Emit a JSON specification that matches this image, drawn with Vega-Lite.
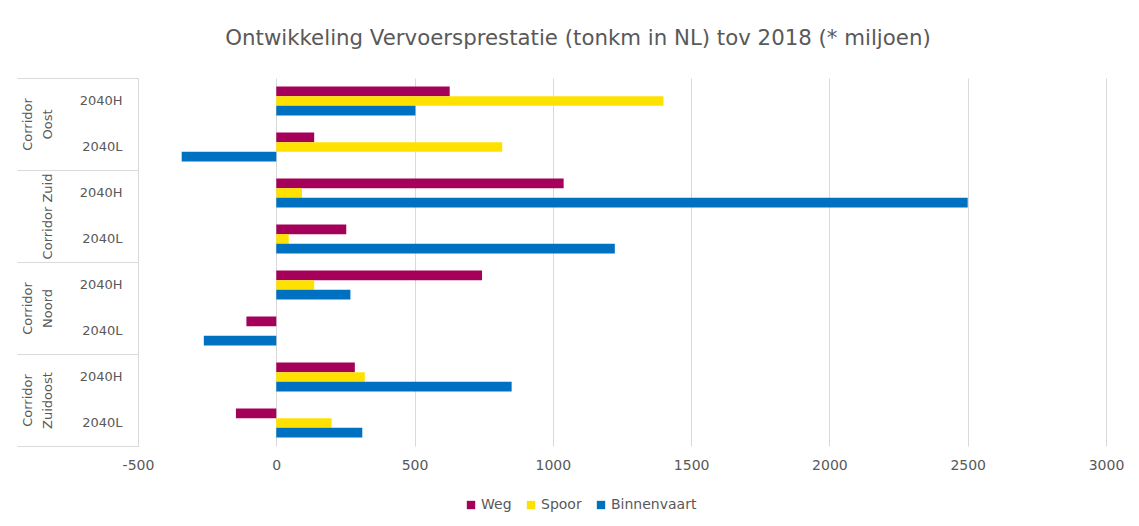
{
  "$schema": "https://vega.github.io/schema/vega-lite/v6.json",
  "width": 968,
  "height": 368,
  "autosize": {"type": "none"},
  "padding": {"left": 138, "top": 78, "right": 33, "bottom": 80},
  "background": "white",
  "config": {
    "font": "DejaVu Sans",
    "view": {"stroke": null},
    "axis": {"labelColor": "#595959", "labelFont": "DejaVu Sans", "labelFontSize": 13}
  },
  "title": {
    "text": "Ontwikkeling Vervoersprestatie (tonkm in NL) tov 2018 (* miljoen)",
    "anchor": "middle",
    "dx": -44,
    "fontSize": 21.3,
    "fontWeight": "normal",
    "color": "#595959",
    "font": "DejaVu Sans",
    "baseline": "alphabetic",
    "offset": 11
  },
  "data": {
    "values": [
      {"corridor": "Corridor Oost", "key": "Oost 2040H", "series": "Weg", "value": 627},
      {"corridor": "Corridor Oost", "key": "Oost 2040H", "series": "Spoor", "value": 1400},
      {"corridor": "Corridor Oost", "key": "Oost 2040H", "series": "Binnenvaart", "value": 503},
      {"corridor": "Corridor Oost", "key": "Oost 2040L", "series": "Weg", "value": 137},
      {"corridor": "Corridor Oost", "key": "Oost 2040L", "series": "Spoor", "value": 817},
      {"corridor": "Corridor Oost", "key": "Oost 2040L", "series": "Binnenvaart", "value": -342},
      {"corridor": "Corridor Zuid", "key": "Zuid 2040H", "series": "Weg", "value": 1039},
      {"corridor": "Corridor Zuid", "key": "Zuid 2040H", "series": "Spoor", "value": 93},
      {"corridor": "Corridor Zuid", "key": "Zuid 2040H", "series": "Binnenvaart", "value": 2500},
      {"corridor": "Corridor Zuid", "key": "Zuid 2040L", "series": "Weg", "value": 253},
      {"corridor": "Corridor Zuid", "key": "Zuid 2040L", "series": "Spoor", "value": 45},
      {"corridor": "Corridor Zuid", "key": "Zuid 2040L", "series": "Binnenvaart", "value": 1224},
      {"corridor": "Corridor Noord", "key": "Noord 2040H", "series": "Weg", "value": 744},
      {"corridor": "Corridor Noord", "key": "Noord 2040H", "series": "Spoor", "value": 137},
      {"corridor": "Corridor Noord", "key": "Noord 2040H", "series": "Binnenvaart", "value": 268},
      {"corridor": "Corridor Noord", "key": "Noord 2040L", "series": "Weg", "value": -108},
      {"corridor": "Corridor Noord", "key": "Noord 2040L", "series": "Spoor", "value": 0},
      {"corridor": "Corridor Noord", "key": "Noord 2040L", "series": "Binnenvaart", "value": -262},
      {"corridor": "Corridor Zuidoost", "key": "Zuidoost 2040H", "series": "Weg", "value": 284},
      {"corridor": "Corridor Zuidoost", "key": "Zuidoost 2040H", "series": "Spoor", "value": 320},
      {"corridor": "Corridor Zuidoost", "key": "Zuidoost 2040H", "series": "Binnenvaart", "value": 851},
      {"corridor": "Corridor Zuidoost", "key": "Zuidoost 2040L", "series": "Weg", "value": -146},
      {"corridor": "Corridor Zuidoost", "key": "Zuidoost 2040L", "series": "Spoor", "value": 200},
      {"corridor": "Corridor Zuidoost", "key": "Zuidoost 2040L", "series": "Binnenvaart", "value": 311}
    ]
  },
  "layer": [
    {
      "mark": {"type": "bar", "opacity": 0},
      "encoding": {
        "y": {
          "field": "corridor",
          "type": "nominal",
          "sort": null,
          "scale": {"paddingInner": 0, "paddingOuter": 0},
          "axis": {
            "orient": "left",
            "offset": 0,
            "title": null,
            "domain": true,
            "domainColor": "#d9d9d9",
            "ticks": true,
            "tickBand": "extent",
            "tickSize": 121,
            "tickColor": "#d9d9d9",
            "labelAngle": -90,
            "labelAlign": "center",
            "labelBaseline": "bottom",
            "labelPadding": -17,
            "labelLineHeight": 20,
            "labelFontSize": 13,
            "labelExpr": "isString(datum.value) ? (datum.value == 'Corridor Zuid' ? ['', datum.value] : split(datum.value, ' ')) : ''"
          }
        },
        "x": {"field": "value", "type": "quantitative"}
      }
    },
    {
      "mark": {"type": "bar"},
      "encoding": {
        "y": {
          "field": "key",
          "type": "nominal",
          "sort": null,
          "scale": {"paddingInner": 0.37, "paddingOuter": 0.185},
          "axis": {
            "orient": "left",
            "offset": 0,
            "title": null,
            "domain": false,
            "ticks": false,
            "labelPadding": 16,
            "labelFontSize": 13,
            "labelExpr": "slice(datum.value, -5)"
          }
        },
        "yOffset": {
          "field": "series",
          "type": "nominal",
          "sort": ["Weg", "Spoor", "Binnenvaart"],
          "scale": {"paddingInner": 0, "paddingOuter": 0}
        },
        "x": {
          "field": "value",
          "type": "quantitative",
          "scale": {"domain": [-500, 3000], "nice": false, "zero": false},
          "axis": {
            "title": null,
            "values": [-500, 0, 500, 1000, 1500, 2000, 2500, 3000],
            "grid": true,
            "gridColor": "#d9d9d9",
            "domain": false,
            "ticks": false,
            "labelFlush": false,
            "labelPadding": 12,
            "labelFontSize": 14,
            "labelExpr": "'' + datum.value"
          }
        },
        "color": {
          "field": "series",
          "type": "nominal",
          "sort": ["Weg", "Spoor", "Binnenvaart"],
          "scale": {"domain": ["Weg", "Spoor", "Binnenvaart"], "range": ["#A5005A", "#FFE100", "#0070C0"]},
          "legend": {
            "title": null,
            "orient": "none",
            "direction": "horizontal",
            "legendX": 326,
            "legendY": 420,
            "symbolType": "square",
            "symbolSize": 70,
            "symbolStrokeWidth": 0,
            "labelColor": "#595959",
            "labelFontSize": 14,
            "labelFont": "DejaVu Sans",
            "columnPadding": 12,
            "labelOffset": 3
          }
        }
      }
    }
  ],
  "resolve": {"scale": {"y": "independent"}, "axis": {"y": "independent"}}
}
